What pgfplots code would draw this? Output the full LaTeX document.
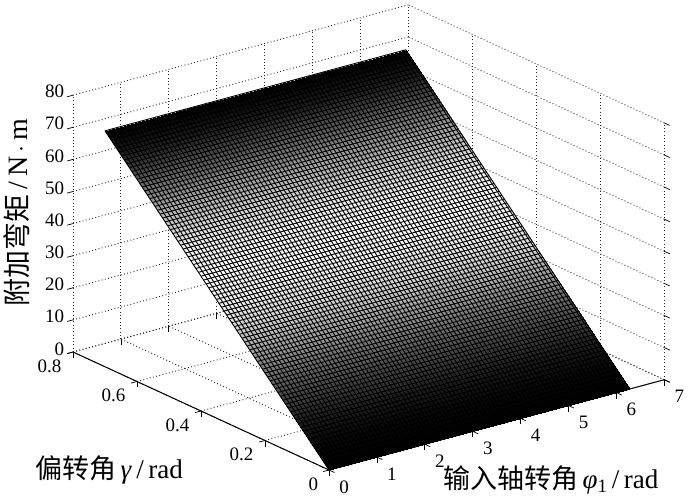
\documentclass[border=0pt]{standalone}
\usepackage{pgfplots}
\pgfplotsset{compat=1.18}
\usepackage{fontspec}
\setmainfont{Liberation Serif}
\newfontfamily\cjk{Noto Sans CJK SC}

\begin{document}
\begin{tikzpicture}
\useasboundingbox (-329pt,-28pt) rectangle (371pt,470pt);
\begin{axis}[
    at={(0pt,0pt)}, anchor=origin,
    x={(47.9pt,12.9pt)}, y={(-320pt,147.5pt)}, z={(0pt,3.21pt)},
    xmin=0, xmax=7, ymin=0, ymax=0.8, zmin=0, zmax=80,
    xtick={0,1,2,3,4,5,6,7},
    ytick={0,0.2,0.4,0.6,0.8},
    yticklabels={\kern16pt 0,0.2,0.4,0.6,0.8},
    ztick={0,10,20,30,40,50,60,70,80},
    tick pos=left,
    grid=major,
    grid style={black!85, line width=0.9pt, dash pattern=on 0.9pt off 2.4pt},
    axis line style={draw=none},
    tick style={black, line width=0.7pt},
    tick align=outside,
    major tick length=6pt,
    ticklabel style={font=\fontsize{19}{19}\selectfont},
    x tick label style={xshift=3pt, yshift=-4pt},
    y tick label style={xshift=-8pt},
    /pgf/number format/assume math mode=true,
    clip=false,
    colormap/blackwhite,
    point meta min=0, point meta max=1,
]
% shading of the surface
\addplot3[surf, shader=interp, point meta=explicit, forget plot] table[meta=c] {
x y z c
0 0 0 0
6.28 0 0 0

0 0.05 5.25 0.03
6.28 0.05 5.25 0.03

0 0.1 10.5 0.12
6.28 0.1 10.5 0.12

0 0.15 15.75 0.28
6.28 0.15 15.75 0.28

0 0.2 21 0.45
6.28 0.2 21 0.45

0 0.25 26.25 0.65
6.28 0.25 26.25 0.65

0 0.3 31.5 0.85
6.28 0.3 31.5 0.85

0 0.35 36.75 0.95
6.28 0.35 36.75 0.95

0 0.4 42 1
6.28 0.4 42 1

0 0.45 47.25 0.95
6.28 0.45 47.25 0.95

0 0.5 52.5 0.82
6.28 0.5 52.5 0.82

0 0.55 57.75 0.6
6.28 0.55 57.75 0.6

0 0.6 63 0.35
6.28 0.6 63 0.35

0 0.65 68.25 0.12
6.28 0.65 68.25 0.12

0 0.7 73.5 0
6.28 0.7 73.5 0
};
% mesh lines along the input shaft angle
\addplot3[black, line width=0.9pt, empty line=jump, forget plot] table {
0 0 0
6.28 0 0

0 0.008 0.84
6.28 0.008 0.84

0 0.016 1.68
6.28 0.016 1.68

0 0.024 2.52
6.28 0.024 2.52

0 0.032 3.36
6.28 0.032 3.36

0 0.04 4.2
6.28 0.04 4.2

0 0.048 5.04
6.28 0.048 5.04

0 0.056 5.88
6.28 0.056 5.88

0 0.064 6.72
6.28 0.064 6.72

0 0.072 7.56
6.28 0.072 7.56

0 0.08 8.4
6.28 0.08 8.4

0 0.088 9.24
6.28 0.088 9.24

0 0.096 10.08
6.28 0.096 10.08

0 0.104 10.92
6.28 0.104 10.92

0 0.112 11.76
6.28 0.112 11.76

0 0.12 12.6
6.28 0.12 12.6

0 0.128 13.44
6.28 0.128 13.44

0 0.136 14.28
6.28 0.136 14.28

0 0.144 15.12
6.28 0.144 15.12

0 0.152 15.96
6.28 0.152 15.96

0 0.16 16.8
6.28 0.16 16.8

0 0.168 17.64
6.28 0.168 17.64

0 0.176 18.48
6.28 0.176 18.48

0 0.184 19.32
6.28 0.184 19.32

0 0.192 20.16
6.28 0.192 20.16

0 0.2 21
6.28 0.2 21

0 0.208 21.84
6.28 0.208 21.84

0 0.216 22.68
6.28 0.216 22.68

0 0.224 23.52
6.28 0.224 23.52

0 0.232 24.36
6.28 0.232 24.36

0 0.24 25.2
6.28 0.24 25.2

0 0.248 26.04
6.28 0.248 26.04

0 0.256 26.88
6.28 0.256 26.88

0 0.264 27.72
6.28 0.264 27.72

0 0.272 28.56
6.28 0.272 28.56

0 0.28 29.4
6.28 0.28 29.4

0 0.288 30.24
6.28 0.288 30.24

0 0.296 31.08
6.28 0.296 31.08

0 0.304 31.92
6.28 0.304 31.92

0 0.312 32.76
6.28 0.312 32.76

0 0.32 33.6
6.28 0.32 33.6

0 0.328 34.44
6.28 0.328 34.44

0 0.336 35.28
6.28 0.336 35.28

0 0.344 36.12
6.28 0.344 36.12

0 0.352 36.96
6.28 0.352 36.96

0 0.36 37.8
6.28 0.36 37.8

0 0.368 38.64
6.28 0.368 38.64

0 0.376 39.48
6.28 0.376 39.48

0 0.384 40.32
6.28 0.384 40.32

0 0.392 41.16
6.28 0.392 41.16

0 0.4 42
6.28 0.4 42

0 0.408 42.84
6.28 0.408 42.84

0 0.416 43.68
6.28 0.416 43.68

0 0.424 44.52
6.28 0.424 44.52

0 0.432 45.36
6.28 0.432 45.36

0 0.44 46.2
6.28 0.44 46.2

0 0.448 47.04
6.28 0.448 47.04

0 0.456 47.88
6.28 0.456 47.88

0 0.464 48.72
6.28 0.464 48.72

0 0.472 49.56
6.28 0.472 49.56

0 0.48 50.4
6.28 0.48 50.4

0 0.488 51.24
6.28 0.488 51.24

0 0.496 52.08
6.28 0.496 52.08

0 0.504 52.92
6.28 0.504 52.92

0 0.512 53.76
6.28 0.512 53.76

0 0.52 54.6
6.28 0.52 54.6

0 0.528 55.44
6.28 0.528 55.44

0 0.536 56.28
6.28 0.536 56.28

0 0.544 57.12
6.28 0.544 57.12

0 0.552 57.96
6.28 0.552 57.96

0 0.56 58.8
6.28 0.56 58.8

0 0.568 59.64
6.28 0.568 59.64

0 0.576 60.48
6.28 0.576 60.48

0 0.584 61.32
6.28 0.584 61.32

0 0.592 62.16
6.28 0.592 62.16

0 0.6 63
6.28 0.6 63

0 0.608 63.84
6.28 0.608 63.84

0 0.616 64.68
6.28 0.616 64.68

0 0.624 65.52
6.28 0.624 65.52

0 0.632 66.36
6.28 0.632 66.36

0 0.64 67.2
6.28 0.64 67.2

0 0.648 68.04
6.28 0.648 68.04

0 0.656 68.88
6.28 0.656 68.88

0 0.664 69.72
6.28 0.664 69.72

0 0.672 70.56
6.28 0.672 70.56

0 0.68 71.4
6.28 0.68 71.4

0 0.688 72.24
6.28 0.688 72.24

0 0.696 73.08
6.28 0.696 73.08

0 0.7 73.5
6.28 0.7 73.5
};
% mesh lines along the yaw angle
\addplot3[black, line width=0.9pt, empty line=jump, forget plot] table {
0 0 0
0 0.7 73.5

0.08 0 0
0.08 0.7 73.5

0.16 0 0
0.16 0.7 73.5

0.24 0 0
0.24 0.7 73.5

0.32 0 0
0.32 0.7 73.5

0.4 0 0
0.4 0.7 73.5

0.48 0 0
0.48 0.7 73.5

0.56 0 0
0.56 0.7 73.5

0.64 0 0
0.64 0.7 73.5

0.72 0 0
0.72 0.7 73.5

0.8 0 0
0.8 0.7 73.5

0.88 0 0
0.88 0.7 73.5

0.96 0 0
0.96 0.7 73.5

1.04 0 0
1.04 0.7 73.5

1.12 0 0
1.12 0.7 73.5

1.2 0 0
1.2 0.7 73.5

1.28 0 0
1.28 0.7 73.5

1.36 0 0
1.36 0.7 73.5

1.44 0 0
1.44 0.7 73.5

1.52 0 0
1.52 0.7 73.5

1.6 0 0
1.6 0.7 73.5

1.68 0 0
1.68 0.7 73.5

1.76 0 0
1.76 0.7 73.5

1.84 0 0
1.84 0.7 73.5

1.92 0 0
1.92 0.7 73.5

2 0 0
2 0.7 73.5

2.08 0 0
2.08 0.7 73.5

2.16 0 0
2.16 0.7 73.5

2.24 0 0
2.24 0.7 73.5

2.32 0 0
2.32 0.7 73.5

2.4 0 0
2.4 0.7 73.5

2.48 0 0
2.48 0.7 73.5

2.56 0 0
2.56 0.7 73.5

2.64 0 0
2.64 0.7 73.5

2.72 0 0
2.72 0.7 73.5

2.8 0 0
2.8 0.7 73.5

2.88 0 0
2.88 0.7 73.5

2.96 0 0
2.96 0.7 73.5

3.04 0 0
3.04 0.7 73.5

3.12 0 0
3.12 0.7 73.5

3.2 0 0
3.2 0.7 73.5

3.28 0 0
3.28 0.7 73.5

3.36 0 0
3.36 0.7 73.5

3.44 0 0
3.44 0.7 73.5

3.52 0 0
3.52 0.7 73.5

3.6 0 0
3.6 0.7 73.5

3.68 0 0
3.68 0.7 73.5

3.76 0 0
3.76 0.7 73.5

3.84 0 0
3.84 0.7 73.5

3.92 0 0
3.92 0.7 73.5

4 0 0
4 0.7 73.5

4.08 0 0
4.08 0.7 73.5

4.16 0 0
4.16 0.7 73.5

4.24 0 0
4.24 0.7 73.5

4.32 0 0
4.32 0.7 73.5

4.4 0 0
4.4 0.7 73.5

4.48 0 0
4.48 0.7 73.5

4.56 0 0
4.56 0.7 73.5

4.64 0 0
4.64 0.7 73.5

4.72 0 0
4.72 0.7 73.5

4.8 0 0
4.8 0.7 73.5

4.88 0 0
4.88 0.7 73.5

4.96 0 0
4.96 0.7 73.5

5.04 0 0
5.04 0.7 73.5

5.12 0 0
5.12 0.7 73.5

5.2 0 0
5.2 0.7 73.5

5.28 0 0
5.28 0.7 73.5

5.36 0 0
5.36 0.7 73.5

5.44 0 0
5.44 0.7 73.5

5.52 0 0
5.52 0.7 73.5

5.6 0 0
5.6 0.7 73.5

5.68 0 0
5.68 0.7 73.5

5.76 0 0
5.76 0.7 73.5

5.84 0 0
5.84 0.7 73.5

5.92 0 0
5.92 0.7 73.5

6 0 0
6 0.7 73.5

6.08 0 0
6.08 0.7 73.5

6.16 0 0
6.16 0.7 73.5

6.24 0 0
6.24 0.7 73.5

6.28 0 0
6.28 0.7 73.5
};
% axis lines in front
\addplot3[black, line width=1pt, forget plot] coordinates {(0,0.8,0) (0,0,0) (7,0,0)};
\node[font=\fontsize{27}{27}\selectfont] at (axis cs:4.63,0,-21.8) {{\cjk 输入轴转角}\,\textit{φ}\textsubscript{1}\,/\,rad};
\node[font=\fontsize{27}{27}\selectfont] at (axis cs:0,0.6875,-31.6) {{\cjk 偏转角}\,\textit{γ}\,/\,rad};
\node[font=\fontsize{28}{28}\selectfont, rotate=90] at (axis cs:-1.17,0.8,48.2) {{\cjk 附加弯矩}\,/\,N\,$\cdot$\,m};
\end{axis}
\end{tikzpicture}
\end{document}
